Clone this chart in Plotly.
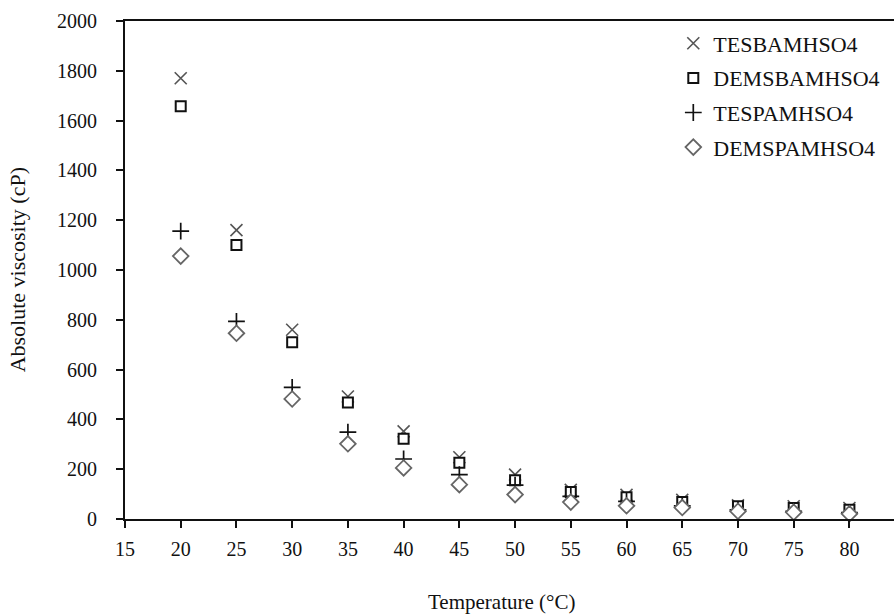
import plotly.graph_objects as go

# Temperature (°C) and absolute viscosity (cP) of the four ionic liquids
temperature = [20, 25, 30, 35, 40, 45, 50, 55, 60, 65, 70, 75, 80]
tesbamhso4 = [1770, 1160, 760, 492, 352, 248, 178, 117, 97, 77, 55, 51, 44]
demsbamhso4 = [1658, 1100, 710, 468, 322, 226, 156, 108, 87, 68, 51, 44, 37]
tespamhso4 = [1156, 794, 529, 349, 241, 178, 136, 91, 71, 53, 37, 31, 26]
demspamhso4 = [1056, 746, 482, 302, 205, 138, 98, 68, 53, 46, 31, 27, 21]

x_ticks = [15, 20, 25, 30, 35, 40, 45, 50, 55, 60, 65, 70, 75, 80]
y_ticks = [0, 200, 400, 600, 800, 1000, 1200, 1400, 1600, 1800, 2000]

FONT = "Liberation Serif"
INK = "#111111"

series = [
    ("TESBAMHSO4", tesbamhso4,
     dict(symbol="x-thin-open", size=12, color="#555555",
          line=dict(color="#555555", width=1.6))),
    ("DEMSBAMHSO4", demsbamhso4,
     dict(symbol="square", size=10, color="white",
          line=dict(color=INK, width=2))),
    ("TESPAMHSO4", tespamhso4,
     dict(symbol="cross-thin-open", size=12, color=INK,
          line=dict(color=INK, width=1.7))),
    ("DEMSPAMHSO4", demspamhso4,
     dict(symbol="diamond", size=12, color="white",
          line=dict(color="#666666", width=1.8))),
]

fig = go.Figure()
for i, (name, vals, marker) in enumerate(series):
    fig.add_trace(go.Scatter(
        x=temperature, y=vals, mode="markers", name=name,
        marker=marker, legendgroup=f"g{i}", cliponaxis=False,
    ))

axis_common = dict(
    showgrid=False, zeroline=False, showline=True,
    linecolor=INK, linewidth=1.8,
    ticks="outside", ticklen=7, tickwidth=1.5, tickcolor=INK,
    tickfont=dict(family=FONT, size=20, color=INK),
)

fig.update_xaxes(range=[15, 84], tickvals=x_ticks, mirror=True,
                 ticklabelstandoff=4, **axis_common)
fig.update_yaxes(range=[0, 2000], tickvals=y_ticks,
                 ticklabelstandoff=15, **axis_common)

fig.update_layout(
    width=894, height=616,
    margin=dict(l=125, r=0, t=21, b=97),
    paper_bgcolor="white", plot_bgcolor="white",
    font=dict(family=FONT, color=INK),
    showlegend=True,
    legend=dict(
        x=0.713, xanchor="left", y=0.997, yanchor="top",
        font=dict(family=FONT, size=22, color=INK),
        bgcolor="rgba(0,0,0,0)", tracegroupgap=3,
        itemwidth=30, traceorder="grouped",
    ),
    annotations=[
        dict(text="Temperature (°C)", xref="paper", yref="paper",
             x=0.49, y=-0.166, xanchor="center", yanchor="middle",
             showarrow=False, font=dict(family=FONT, size=21, color=INK)),
        dict(text="Absolute viscosity (cP)", xref="paper", yref="paper",
             x=-0.14, y=0.5, xanchor="center", yanchor="middle", textangle=-90,
             showarrow=False, font=dict(family=FONT, size=22, color=INK)),
    ],
)

fig.write_html("out.html")
